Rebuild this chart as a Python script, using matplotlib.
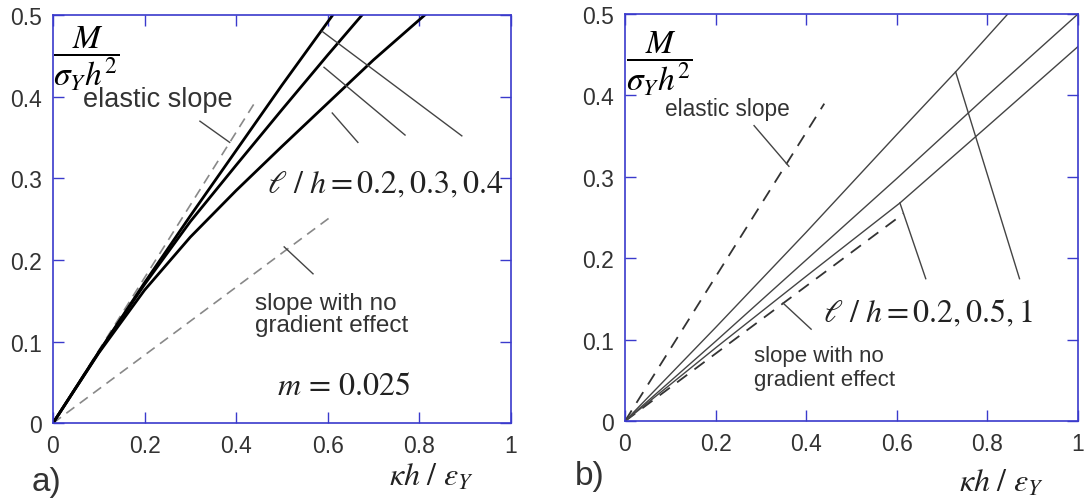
import matplotlib.pyplot as plt

plt.rcParams['font.family'] = ['Liberation Sans', 'DejaVu Sans']
plt.rcParams['mathtext.fontset'] = 'stix'

# ---- data ----
x_ticks = [0, 0.2, 0.4, 0.6, 0.8, 1]
x_tick_labels = ['0', '0.2', '0.4', '0.6', '0.8', '1']
y_ticks = [0, 0.1, 0.2, 0.3, 0.4, 0.5]
y_tick_labels = ['0', '0.1', '0.2', '0.3', '0.4', '0.5']

# panel a)  m = 0.025, l/h = 0.2, 0.3, 0.4
a_x1 = [0, 0.1, 0.2, 0.3, 0.4, 0.5, 0.611]
a_y1 = [0, 0.087, 0.172, 0.254, 0.334, 0.414, 0.5]
a_x2 = [0, 0.1, 0.2, 0.3, 0.4, 0.5, 0.6, 0.675]
a_y2 = [0, 0.087, 0.17, 0.247, 0.316, 0.384, 0.451, 0.5]
a_x3 = [0, 0.1, 0.2, 0.3, 0.4, 0.5, 0.6, 0.7, 0.812]
a_y3 = [0, 0.086, 0.163, 0.228, 0.285, 0.339, 0.392, 0.445, 0.5]
a_elastic_x = [0, 0.44]
a_elastic_y = [0, 0.392]
a_nograd_x = [0, 0.612]
a_nograd_y = [0, 0.255]

# panel b)  l/h = 0.2, 0.5, 1
b_x1 = [0, 0.2, 0.4, 0.6, 0.73, 0.845]
b_y1 = [0, 0.115, 0.232, 0.352, 0.429, 0.5]
b_x2 = [0, 0.2, 0.4, 0.6, 0.8, 1.0]
b_y2 = [0, 0.098, 0.198, 0.298, 0.4, 0.5]
b_x3 = [0, 0.2, 0.4, 0.607, 0.8, 1.0]
b_y3 = [0, 0.09, 0.178, 0.268, 0.362, 0.46]
b_elastic_x = [0, 0.44]
b_elastic_y = [0, 0.39]
b_nograd_x = [0, 0.615]
b_nograd_y = [0, 0.255]

# leader lines (x0, y0, x1, y1)
a_leaders = [(0.588, 0.480, 0.893, 0.352),
             (0.592, 0.436, 0.769, 0.353),
             (0.61, 0.38, 0.666, 0.344),
             (0.321, 0.370, 0.386, 0.344),
             (0.505, 0.216, 0.568, 0.183)]
b_leaders = [(0.730, 0.429, 0.871, 0.175),
             (0.607, 0.268, 0.664, 0.175),
             (0.285, 0.363, 0.362, 0.313),
             (0.349, 0.145, 0.411, 0.113)]

SPINE = '#3a3acc'
TXT = '#333333'


def style_axes(ax):
    ax.set_xlim(0, 1)
    ax.set_ylim(0, 0.5)
    ax.set_xticks(x_ticks)
    ax.set_xticklabels(x_tick_labels)
    ax.set_yticks(y_ticks)
    ax.set_yticklabels(y_tick_labels)
    ax.tick_params(direction='in', length=8, width=1, color=SPINE, top=True, right=True,
                   labelsize=16.5, labelcolor=TXT, pad=8)
    for s in ax.spines.values():
        s.set_color(SPINE)
        s.set_linewidth(1.2)


fig = plt.figure(figsize=(10.85, 5.02), dpi=100)
axa = fig.add_axes([0.0488, 0.155, 0.422, 0.813])
axb = fig.add_axes([0.576, 0.159, 0.4175, 0.811])

# ---- panel a ----
axa.plot(a_elastic_x, a_elastic_y, color='#888888', lw=1.2, dashes=(6, 4))
axa.plot(a_nograd_x, a_nograd_y, color='#888888', lw=1.2, dashes=(6, 4))
for xs, ys in [(a_x1, a_y1), (a_x2, a_y2), (a_x3, a_y3)]:
    axa.plot(xs, ys, color='black', lw=2.0)
for x0, y0, x1, y1 in a_leaders:
    axa.plot([x0, x1], [y0, y1], color='#444444', lw=1)
axa.text(0.073, 0.447, r'$\dfrac{M}{\sigma_Y h^2}$', fontsize=24, ha='center', va='center')
axa.text(0.066, 0.397, 'elastic slope', fontsize=19.5, color=TXT, va='center')
axa.text(0.467, 0.293, r'$\ell\ /\ h = 0.2, 0.3, 0.4$', fontsize=23, va='center', color='#222222')
axa.text(0.441, 0.134, 'slope with no\ngradient effect', fontsize=17.5, color=TXT, va='center',
         linespacing=1.0)
axa.text(0.49, 0.045, r'$m\,=\,0.025$', fontsize=23, va='center', color='#222222')
axa.text(-0.013, -0.142, 'a)', fontsize=24, color=TXT, transform=axa.transAxes,
         ha='center', va='center')
axa.text(0.827, -0.132, r'$\kappa h\ /\ \varepsilon_Y$', fontsize=23, transform=axa.transAxes,
         ha='center', va='center', color='#222222')
style_axes(axa)

# ---- panel b ----
axb.plot(b_elastic_x, b_elastic_y, color='#333333', lw=1.3, dashes=(7, 5))
axb.plot(b_nograd_x, b_nograd_y, color='#333333', lw=1.3, dashes=(7, 5))
for xs, ys in [(b_x1, b_y1), (b_x2, b_y2), (b_x3, b_y3)]:
    axb.plot(xs, ys, color='#444444', lw=1)
for x0, y0, x1, y1 in b_leaders:
    axb.plot([x0, x1], [y0, y1], color='#444444', lw=1)
axb.text(0.077, 0.440, r'$\dfrac{M}{\sigma_Y h^2}$', fontsize=24, ha='center', va='center')
axb.text(0.088, 0.384, 'elastic slope', fontsize=16.3, color=TXT, va='center')
axb.text(0.437, 0.133, r'$\ell\ /\ h = 0.2, 0.5, 1$', fontsize=23, va='center', color='#222222')
axb.text(0.285, 0.066, 'slope with no\ngradient effect', fontsize=16, color=TXT, va='center',
         linespacing=1.2)
axb.text(-0.077, -0.133, 'b)', fontsize=24, color=TXT, transform=axb.transAxes,
         ha='center', va='center')
axb.text(0.832, -0.15, r'$\kappa h\ /\ \varepsilon_Y$', fontsize=23, transform=axb.transAxes,
         ha='center', va='center', color='#222222')
style_axes(axb)

fig.savefig('out.png', dpi=100)
